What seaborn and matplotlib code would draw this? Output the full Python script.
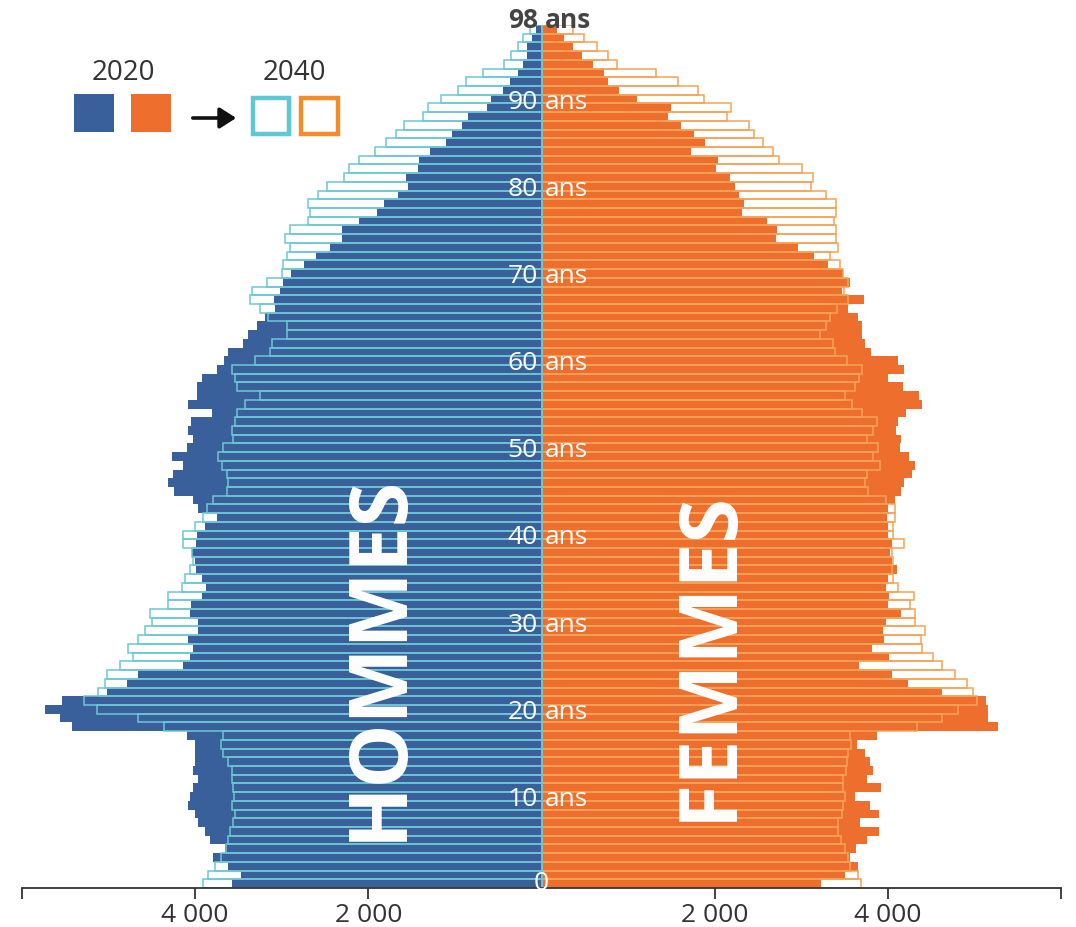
import matplotlib
matplotlib.use("Agg")
import matplotlib.pyplot as plt
import seaborn as sns
import pandas as pd
from matplotlib.patches import Rectangle, FancyArrowPatch

ages = list(range(99))

men_2020 = [3577, 3474, 3616, 3790, 3650, 3828, 3886, 3963, 4001, 4086,
            4059, 4020, 3963, 4028, 4001, 4001, 4001, 4097, 5425, 5560,
            5733, 5540, 5013, 4783, 4656, 4143, 4059, 4020, 4086, 3970,
            3970, 4059, 4047, 3924, 3878, 3924, 3993, 4001, 4032, 3993,
            3982, 3886, 3744, 3963, 4028, 4244, 4317, 4252, 4136, 4271,
            4097, 4028, 4078, 4051, 3808, 4078, 3982, 3982, 3924, 3751,
            3666, 3616, 3450, 3393, 3281, 3193, 3077, 3089, 3020, 2981,
            2896, 2742, 2604, 2442, 2307, 2307, 2104, 1903, 1819, 1654,
            1538, 1568, 1430, 1415, 1288, 1106, 1030, 922, 845, 633,
            583, 441, 364, 275, 210, 171, 171, 106, 60]

men_2040 = [3905, 3848, 3770, 3701, 3640, 3624, 3597, 3559, 3539, 3577,
            3547, 3559, 3577, 3577, 3616, 3674, 3701, 3681, 4356, 4656,
            5136, 5279, 5117, 5040, 5021, 4867, 4713, 4771, 4656, 4579,
            4501, 4521, 4310, 4310, 4155, 4117, 4059, 4020, 4040, 4136,
            4136, 4001, 3905, 3866, 3790, 3636, 3616, 3636, 3693, 3732,
            3674, 3559, 3577, 3539, 3520, 3424, 3251, 3520, 3539, 3577,
            3309, 3135, 3116, 2942, 2942, 3155, 3251, 3366, 3347, 3174,
            3001, 2981, 2942, 2904, 2962, 2904, 2693, 2673, 2693, 2577,
            2473, 2277, 2219, 2104, 1923, 1796, 1680, 1584, 1365, 1307,
            1160, 961, 872, 679, 430, 352, 268, 217, 130]

women_2020 = [3227, 3505, 3658, 3562, 3632, 3762, 3901, 3678, 3901, 3793,
              3620, 3920, 3755, 3832, 3793, 3736, 3640, 3871, 5275, 5160,
              5160, 5129, 4628, 4236, 4051, 3666, 4013, 3813, 3959, 3947,
              3974, 4148, 3998, 4013, 3978, 3998, 4102, 4044, 4024, 4044,
              4005, 3998, 3986, 4005, 4082, 4151, 4190, 4275, 4313, 4244,
              4140, 4148, 4090, 4113, 4206, 4398, 4359, 4171, 4005, 4190,
              4113, 3805, 3736, 3697, 3705, 3651, 3536, 3728, 3466, 3562,
              3485, 3312, 3150, 2958, 2704, 2716, 2600, 2312, 2338, 2281,
              2234, 2177, 2011, 2042, 1723, 1888, 1761, 1611, 1464, 1495,
              1099, 895, 771, 725, 598, 464, 367, 263, 175]

women_2040 = [3689, 3651, 3562, 3543, 3505, 3458, 3427, 3427, 3466, 3485,
              3505, 3485, 3485, 3516, 3524, 3543, 3574, 3562, 4333, 4621,
              4813, 5025, 4987, 4917, 4774, 4621, 4525, 4390, 4379, 4428,
              4313, 4313, 4255, 4301, 4120, 4063, 4044, 4063, 4051, 4190,
              4063, 4063, 4082, 4082, 3974, 3774, 3736, 3755, 3909, 3832,
              3882, 3755, 3832, 3871, 3697, 3582, 3505, 3620, 3666, 3697,
              3524, 3389, 3370, 3216, 3285, 3331, 3409, 3543, 3497, 3543,
              3485, 3447, 3331, 3420, 3401, 3401, 3381, 3401, 3401, 3281,
              3112, 3132, 3005, 2746, 2677, 2561, 2457, 2400, 2145, 2188,
              1880, 1804, 1573, 1319, 868, 771, 644, 491, 367]

label_ages = [10, 20, 30, 40, 50, 60, 70, 80, 90]
tick_values = [-6000, -4000, -2000, 2000, 4000, 6000]
tick_labels = ["", "4 000", "2 000", "2 000", "4 000", ""]

BLUE = "#3a609b"
ORANGE = "#ee6e2d"
CYAN = "#6cc8d5"
ORANGE_EDGE = "#f6a356"
DARK = "#333333"

sns.set_style("white")
plt.rcParams["font.family"] = ["Open Sans", "DejaVu Sans"]

W, H = 1076, 927
fig = plt.figure(figsize=(W / 100, H / 100), dpi=100)
ax = fig.add_axes([22 / W, 1 - 888 / H, 1039 / W, 863 / H])

df = pd.DataFrame({"age": ages,
                   "m20": [-v for v in men_2020], "w20": women_2020,
                   "m40": [-v for v in men_2040], "w40": women_2040})

sns.barplot(data=df, x="w20", y="age", orient="h", native_scale=True, width=1.0,
            color=ORANGE, saturation=1, linewidth=0, errorbar=None, ax=ax)
sns.barplot(data=df, x="m20", y="age", orient="h", native_scale=True, width=1.0,
            color=BLUE, saturation=1, linewidth=0, errorbar=None, ax=ax)
sns.barplot(data=df, x="w40", y="age", orient="h", native_scale=True, width=1.0,
            color=ORANGE_EDGE, saturation=1, fill=False, linewidth=1.1,
            errorbar=None, ax=ax)
sns.barplot(data=df, x="m40", y="age", orient="h", native_scale=True, width=1.0,
            color=CYAN, saturation=1, fill=False, linewidth=1.1,
            errorbar=None, ax=ax)

ax.set_xlim(-6000, 6000)
ax.set_ylim(-0.5, 98.5)
ax.set_xlabel("")
ax.set_ylabel("")
ax.set_yticks([])
ax.set_xticks(tick_values)
ax.set_xticklabels(tick_labels)
ax.tick_params(axis="x", direction="out", length=8, width=1.3, colors=DARK,
               labelsize=19, pad=3, bottom=True)
for s in ["left", "right", "top"]:
    ax.spines[s].set_visible(False)
ax.spines["bottom"].set_color(DARK)
ax.spines["bottom"].set_linewidth(1.3)
ax.patch.set_alpha(0)

# age labels
for a in label_ages:
    ax.text(-40, a, f"{a}", ha="right", va="center_baseline", color="white", fontsize=19)
    ax.text(40, a, "ans", ha="left", va="center_baseline", color="white", fontsize=19)
ax.text(0, 0.4, "0", ha="center", va="center_baseline", color="white", fontsize=19)
ax.text(-40, 99.4, "98", ha="right", va="center_baseline", color="#444444",
        fontsize=19, fontweight="bold")
ax.text(40, 99.4, "ans", ha="left", va="center_baseline", color="#444444",
        fontsize=19, fontweight="bold")

# big labels
ax.text(-1865, 26.0, "HOMMES", rotation=90, ha="center", va="center",
        color="white", fontsize=58, fontweight="bold")
ax.text(1946, 26.2, "FEMMES", rotation=90, ha="center", va="center",
        color="white", fontsize=58, fontweight="bold")

# legend
def fx(px):
    return px / W

def fy(py):
    return 1 - py / H

fig.text(fx(123), fy(73), "2020", ha="center", va="center", fontsize=20, color=DARK)
fig.text(fx(294), fy(73), "2040", ha="center", va="center", fontsize=20, color=DARK)
fig.add_artist(Rectangle((fx(74), fy(132)), 40 / W, 38 / H, transform=fig.transFigure,
                         facecolor=BLUE, edgecolor="none"))
fig.add_artist(Rectangle((fx(131), fy(132)), 40 / W, 38 / H, transform=fig.transFigure,
                         facecolor=ORANGE, edgecolor="none"))
fig.add_artist(Rectangle((fx(253), fy(134)), 36 / W, 36 / H, transform=fig.transFigure,
                         facecolor="none", edgecolor="#5ec8d6", linewidth=3.2))
fig.add_artist(Rectangle((fx(301), fy(134)), 37 / W, 36 / H, transform=fig.transFigure,
                         facecolor="none", edgecolor="#f28c28", linewidth=3.2))
fig.add_artist(FancyArrowPatch((fx(190), fy(118)), (fx(239), fy(118)),
                               transform=fig.transFigure,
                               arrowstyle="-|>,head_length=0.55,head_width=0.35",
                               mutation_scale=18, linewidth=2.6, color="#111111"))

fig.savefig("out.png", dpi=100)
